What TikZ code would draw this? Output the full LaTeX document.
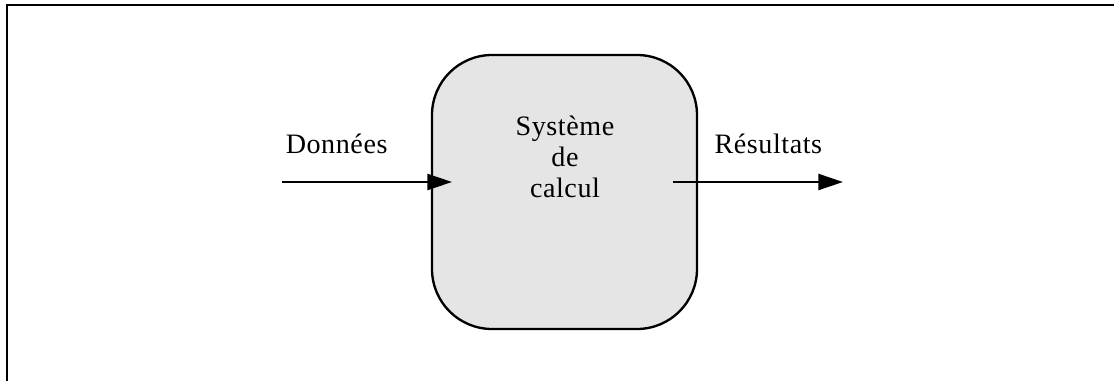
\documentclass[tikz,border=0pt]{standalone}
\usepackage{fontspec}
\setmainfont{Liberation Serif}[LetterSpace=2]
\usetikzlibrary{arrows.meta}

\tikzset{
	txt/.style={font=\fontsize{24}{26.8}\selectfont, inner sep=0pt},
}

\begin{document}
\begin{tikzpicture}[>={Triangle[length=0.74cm,width=0.48cm]}, line width=2pt]

	\useasboundingbox (0,0) rectangle (33.42,11.43);
	% frame: only top and left edges
	\draw[line width=2pt] (0.21,0) -- (0.21,11.28) -- (33.42,11.28);

	\node[draw, fill=black!10, rounded corners=1.8cm, minimum width=7.95cm, minimum height=8.22cm, inner sep=0pt] (sys) at (16.935,5.67) {};
	\node[txt, align=center, anchor=base] (syslbl) at (16.95,5.49) {Système\\de\\calcul};

	\node[txt, anchor=base] (donnees) at (10.1,6.82) {Données};
	\node[txt, anchor=base] (resultats) at (23.05,6.82) {Résultats};

	\coordinate (inA) at (8.46,5.97);
	\coordinate (inB) at (13.56,5.97);
	\coordinate (outA) at (20.19,5.97);
	\coordinate (outB) at (25.29,5.97);

	\draw[->] (inA) -- (inB);
	\draw[->] (outA) -- (outB);
\end{tikzpicture}
\end{document}
